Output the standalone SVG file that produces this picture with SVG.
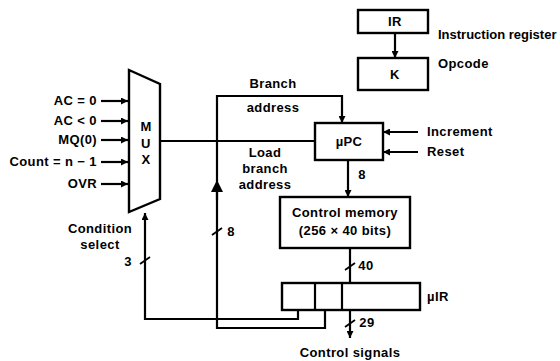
<svg xmlns="http://www.w3.org/2000/svg" width="560" height="361" viewBox="0 0 560 361">
<style>
text{font-family:"Liberation Sans",Arial,sans-serif;font-weight:bold;font-size:13px;fill:#000;letter-spacing:0.4px}
.box{fill:#fff;stroke:#000;stroke-width:2.4}
.ln{fill:none;stroke:#000;stroke-width:2.2}
.tk{fill:none;stroke:#000;stroke-width:1.8}
</style>
<defs>
<marker id="ah" viewBox="0 0 10 10" refX="10" refY="5" markerWidth="7" markerHeight="7" markerUnits="userSpaceOnUse" orient="auto"><path d="M0,0L10,5L0,10z" fill="#000"/></marker>
<marker id="big" viewBox="0 0 10 10" refX="5" refY="5" markerWidth="12" markerHeight="12" markerUnits="userSpaceOnUse" orient="auto"><path d="M0,0L10,5L0,10z" fill="#000"/></marker>
</defs>
<g id="connectors">
<line class="ln" x1="395" y1="33" x2="395" y2="58" marker-end="url(#ah)"/>
<line class="ln" x1="101" y1="101" x2="128" y2="101" marker-end="url(#ah)"/>
<line class="ln" x1="101" y1="121" x2="128" y2="121" marker-end="url(#ah)"/>
<line class="ln" x1="101" y1="140" x2="128" y2="140" marker-end="url(#ah)"/>
<line class="ln" x1="101" y1="162" x2="128" y2="162" marker-end="url(#ah)"/>
<line class="ln" x1="101" y1="184" x2="128" y2="184" marker-end="url(#ah)"/>
<line class="ln" x1="160" y1="141" x2="315" y2="141"/>
<polyline class="ln" points="325,310 325,328 217,328 217,96 342,96 342,123" marker-end="url(#ah)"/>
<line class="ln" x1="217" y1="200" x2="217" y2="186" marker-end="url(#big)"/>
<polyline class="ln" points="298,310 298,319 145,319 145,213" marker-end="url(#ah)"/>
<line class="ln" x1="418" y1="132" x2="383" y2="132" marker-end="url(#ah)"/>
<line class="ln" x1="418" y1="152" x2="383" y2="152" marker-end="url(#ah)"/>
<line class="ln" x1="348" y1="160" x2="348" y2="197" marker-end="url(#ah)"/>
<line class="ln" x1="350" y1="248" x2="350" y2="283"/>
<line class="ln" x1="350" y1="310" x2="350" y2="338" marker-end="url(#ah)"/>
<line class="tk" x1="140" y1="264" x2="150" y2="257"/>
<line class="tk" x1="212" y1="235" x2="222" y2="228"/>
<line class="tk" x1="345" y1="270" x2="355" y2="263"/>
<line class="tk" x1="345" y1="327" x2="355" y2="320"/>
</g>
<g id="ir"><rect class="box" x="358" y="10" width="70" height="23"/><text x="395" y="26" text-anchor="middle">IR</text></g>
<g id="k"><rect class="box" x="358" y="58" width="70" height="32"/><text x="395" y="79" text-anchor="middle">K</text></g>
<text x="438" y="39" style="letter-spacing:0">Instruction register</text>
<text x="438" y="68">Opcode</text>
<g id="mux"><polygon class="box" points="129,70 160,84 160,199 129,212"/>
<text x="146" y="131" text-anchor="middle">M</text><text x="146" y="148" text-anchor="middle">U</text><text x="146" y="164" text-anchor="middle">X</text></g>
<g id="inputs">
<text x="97" y="105" text-anchor="end">AC = 0</text>
<text x="97" y="125" text-anchor="end">AC &lt; 0</text>
<text x="97" y="144" text-anchor="end">MQ(0)</text>
<text x="97" y="166" text-anchor="end">Count = n − 1</text>
<text x="97" y="188" text-anchor="end">OVR</text>
</g>
<g id="upc"><rect class="box" x="315" y="123" width="68" height="37"/><text x="349" y="146" text-anchor="middle">µPC</text></g>
<text x="427" y="136">Increment</text>
<text x="427" y="156">Reset</text>
<g id="cm"><rect class="box" x="280" y="197" width="130" height="51"/>
<text x="345" y="217" text-anchor="middle">Control memory</text>
<text x="345" y="235" text-anchor="middle">(256 × 40 bits)</text></g>
<g id="uir"><rect class="box" x="282" y="283" width="138" height="27"/>
<line class="ln" x1="315" y1="283" x2="315" y2="310"/><line class="ln" x1="342" y1="283" x2="342" y2="310"/></g>
<text x="427" y="301">µIR</text>
<text x="273" y="88" text-anchor="middle">Branch</text>
<text x="273" y="112" text-anchor="middle">address</text>
<text x="265" y="157" text-anchor="middle">Load</text>
<text x="265" y="173" text-anchor="middle">branch</text>
<text x="265" y="189" text-anchor="middle">address</text>
<text x="100" y="233" text-anchor="middle">Condition</text>
<text x="100" y="249" text-anchor="middle">select</text>
<text x="128" y="266" text-anchor="middle">3</text>
<text x="231" y="236" text-anchor="middle">8</text>
<text x="362" y="179" text-anchor="middle">8</text>
<text x="366" y="270" text-anchor="middle">40</text>
<text x="367" y="327" text-anchor="middle">29</text>
<text x="350" y="357" text-anchor="middle">Control signals</text>
</svg>
